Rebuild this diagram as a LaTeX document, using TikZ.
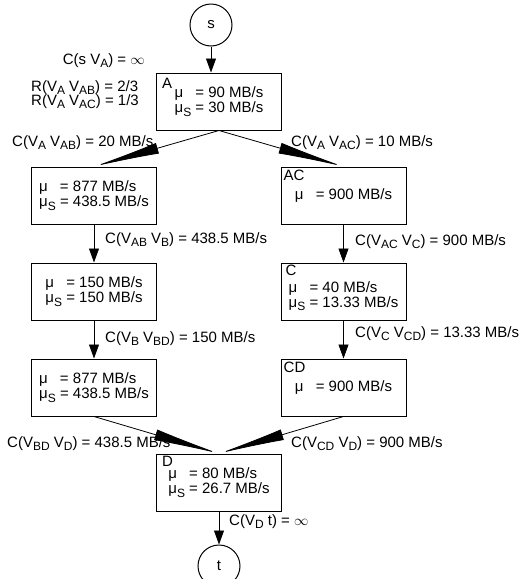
\documentclass[tikz,border=0pt]{standalone}
\usepackage{fontspec}
\setmainfont{Liberation Sans}
\usetikzlibrary{positioning,arrows.meta,calc}
\newcommand{\lo}[1]{\raisebox{-3.5pt}{\fontsize{12}{12}\selectfont #1}}
\newcommand{\mus}{μ\lo{S}}
\newcommand{\muo}{μ\phantom{\lo{S}}}

\begin{document}
\begin{tikzpicture}[x=1pt, y=1pt, every node/.style={font=\fontsize{15}{15}\selectfont}]
      \tikzset{
        unit/.style={draw, line width=1pt, minimum width=125pt, minimum height=57pt, align=left, inner sep=2pt},
        term/.style={draw, circle, line width=1pt, minimum size=42pt, inner sep=0pt},
        tag/.style={anchor=north west, inner sep=1pt},
        edgelbl/.style={anchor=base west, inner sep=0pt},
        flow/.style={line width=0.8pt, -{Triangle[length=14pt,width=10pt]}},
        split/.style={line width=0.8pt, -{Latex[length=66pt,width=11pt]}}
      }
      \useasboundingbox (0,0) rectangle (526,-579);
      % Nodes
      \node[unit] (A) at (219,-101.5) {\muo{} = 90 MB/s\\\mus{} = 30 MB/s};
      \node[term, above=26pt of A, xshift=-8pt] (s) {s};
      \node[unit, below=36pt of A, xshift=-125pt] (AB) {\muo{} = 877 MB/s\\\mus{} = 438.5 MB/s};
      \node[unit, below=36pt of A, xshift=124.5pt] (AC) {\muo{} = 900 MB/s};
      \node[unit, below=38pt of AB] (B) {\muo{} = 150 MB/s\\\mus{} = 150 MB/s};
      \node[unit, below=38pt of AC] (C) {\rule{0pt}{20pt}\muo{} = 40 MB/s\\\mus{} = 13.33 MB/s};
      \node[unit, below=38pt of B] (BD) {\muo{} = 877 MB/s\\\mus{} = 438.5 MB/s};
      \node[unit, below=38pt of C] (CD) {\muo{} = 900 MB/s};
      \node[unit, below=37pt of BD, xshift=125pt] (D) {\muo{} = 80 MB/s\\\mus{} = 26.7 MB/s};
      \node[term, below=33pt of D] (t) {t};
      % Box names
      \node[tag] (Aname) at ([xshift=5pt,yshift=-4pt]A.north west) {A};
      \node[tag] (ACname) at ([xshift=2pt,yshift=-2pt]AC.north west) {AC};
      \node[tag] (Cname) at ([xshift=4pt,yshift=-1pt]C.north west) {C};
      \node[tag] (CDname) at ([xshift=2pt,yshift=-2pt]CD.north west) {CD};
      \node[tag] (Dname) at ([xshift=5pt,yshift=-1pt]D.north west) {D};
      % Labels
      \node[anchor=base east, inner sep=0pt] (ls) at (145,-64) {C(s V\lo{A}) = $\infty$};
      \node[anchor=base east, inner sep=0pt, align=left] (lr) at (139,-105) {R(V\lo{A} V\lo{AB}) = 2/3\\[-1pt]R(V\lo{A} V\lo{AC}) = 1/3};
      \node[edgelbl] (lAAB) at (12,-146) {C(V\lo{A} V\lo{AB}) = 20 MB/s};
      \node[edgelbl] (lAAC) at (291,-146) {C(V\lo{A} V\lo{AC}) = 10 MB/s};
      \node[edgelbl] (lABB) at (105,-243) {C(V\lo{AB} V\lo{B}) = 438.5 MB/s};
      \node[edgelbl] (lACC) at (355,-245) {C(V\lo{AC} V\lo{C}) = 900 MB/s};
      \node[edgelbl] (lBBD) at (105,-342) {C(V\lo{B} V\lo{BD}) = 150 MB/s};
      \node[edgelbl] (lCCD) at (355,-337) {C(V\lo{C} V\lo{CD}) = 13.33 MB/s};
      \node[edgelbl] (lBDD) at (7,-447) {C(V\lo{BD} V\lo{D}) = 438.5 MB/s};
      \node[edgelbl] (lCDD) at (291,-447) {C(V\lo{CD} V\lo{D}) = 900 MB/s};
      \node[edgelbl] (lDt) at (229,-525) {C(V\lo{D} t) = $\infty$};
      % Arrows
      \draw[flow] (s) -- (s |- A.north);
      \draw[split] (A.south) -- (AB.north);
      \draw[split] (A.south) -- (AC.north);
      \draw[flow] (AB) -- (B);
      \draw[flow] (AC) -- (C);
      \draw[flow] (B) -- (BD);
      \draw[flow] (C) -- (CD);
      \draw[split] (BD.south) -- (D.north);
      \draw[split] (CD.south) -- (D.north);
      \draw[flow] (D) -- (t);
    \end{tikzpicture}
\end{document}
